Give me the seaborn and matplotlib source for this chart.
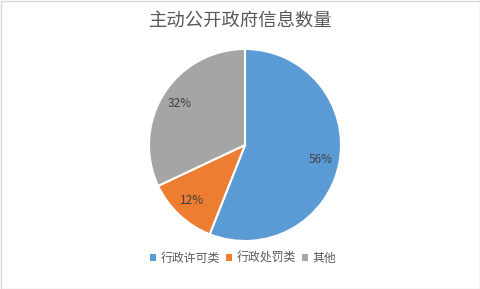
import matplotlib
matplotlib.use("Agg")
import matplotlib.pyplot as plt
from matplotlib.patches import Patch, Rectangle
import seaborn as sns

categories = ["行政许可类", "行政处罚类", "其他"]
shares = [56, 12, 32]
colors = ["#5B9BD5", "#ED7D31", "#A5A5A5"]
title = "主动公开政府信息数量"

sns.set_theme(style="white")
plt.rcParams["font.family"] = ["Noto Sans CJK SC", "DejaVu Sans"]

W, H = 481, 289
fig = plt.figure(figsize=(W / 100, H / 100), dpi=100)
fig.patch.set_facecolor("white")

# outer frame
fig.add_artist(Rectangle((0.5 / W, 0.5 / H), 1 - 1.5 / W, 1 - 1.5 / H,
                         transform=fig.transFigure, fill=False,
                         edgecolor="#D9D9D9", linewidth=1))

cx, cy, r = 245, 145, 96
ax = fig.add_axes([(cx - r) / W, (H - cy - r) / H, 2 * r / W, 2 * r / H])
wedges, texts, autotexts = ax.pie(
    shares, colors=colors, startangle=90, counterclock=False,
    autopct=lambda p: f"{p:.0f}%", pctdistance=0.8,
    wedgeprops=dict(edgecolor="white", linewidth=1.5),
    textprops=dict(color="#404040", fontsize=8.5))
ax.set_xlim(-1.0, 1.0)
ax.set_ylim(-1.0, 1.0)
ax.set_aspect("equal")

fig.text(0.5 + 0.5 / W, 1 - 22 / H, title, ha="center", va="center",
         fontsize=13.2, color="#595959")

handles = [Patch(facecolor=c, edgecolor="none") for c in colors]
fig.legend(handles, categories, loc="center", ncol=3, frameon=False,
           bbox_to_anchor=(243 / W, 1 - 258 / H), fontsize=8.6,
           handlelength=0.5, handleheight=0.5, handletextpad=0.4,
           columnspacing=0.5, labelcolor="#595959")

fig.savefig("out.png", dpi=100)
